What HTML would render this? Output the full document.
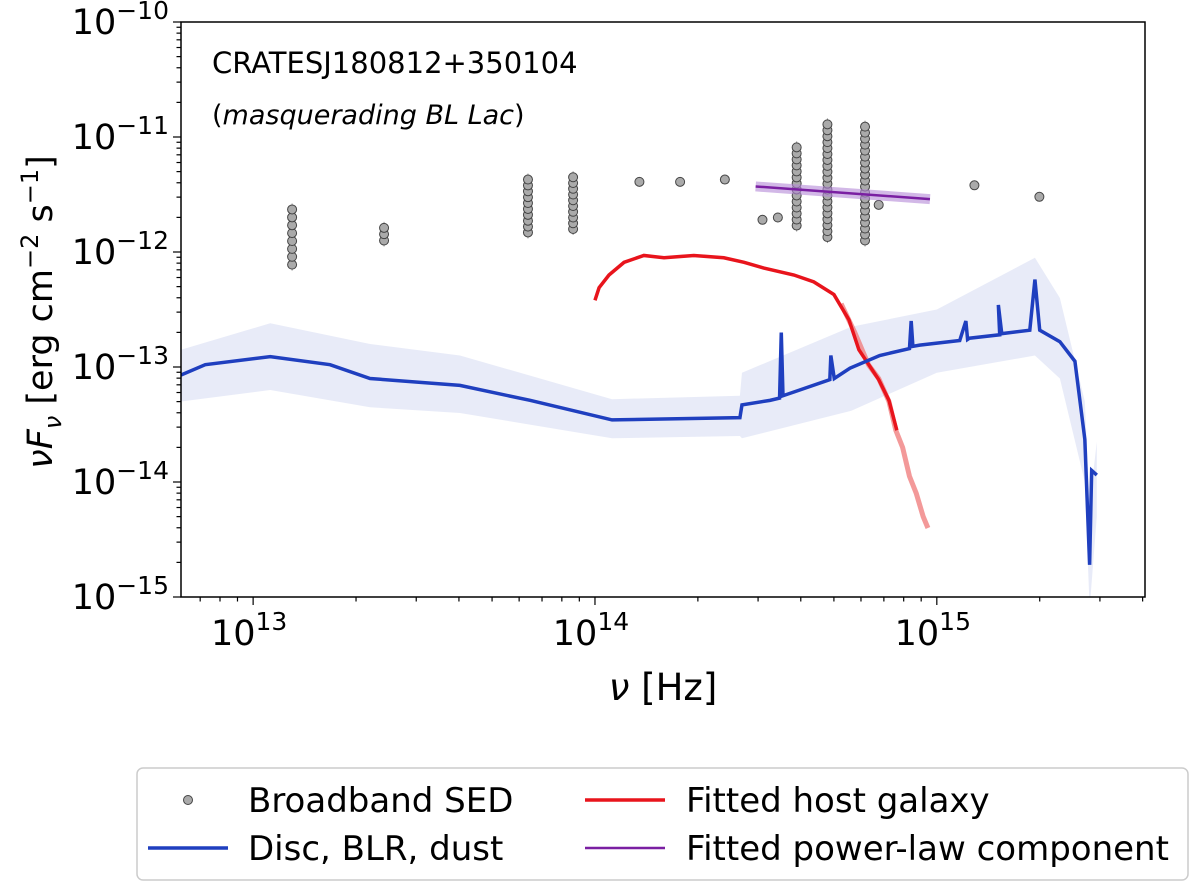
<!DOCTYPE html>
<html><head><meta charset="utf-8"><style>
body{margin:0;background:#fff;font-family:"Liberation Sans","DejaVu Sans",sans-serif}
svg text{font-family:"DejaVu Sans","Liberation Sans",sans-serif}
</style></head><body>
<svg id="c" width="1200" height="889" xmlns="http://www.w3.org/2000/svg"></svg>
<script>
// data in log10 units
const sedNu=[13.114,13.383,13.804,13.936,14.13,14.249,14.38,14.49,14.535,14.59,14.68,14.79,14.83,15.11,15.30];
const sedLo=[-12.11,-11.90,-11.83,-11.80,-11.39,-11.39,-11.37,-11.72,-11.70,-11.77,-11.87,-11.90,-11.59,-11.42,-11.52];
const sedHi=[-11.63,-11.79,-11.37,-11.35,-11.39,-11.39,-11.37,-11.72,-11.70,-11.09,-10.89,-10.91,-11.59,-11.42,-11.52];
const sedN=[8,3,10,10,1,1,1,1,1,14,20,20,1,1,1];
const plNu=[14.47,14.98];
const plF=[-11.43,-11.54];
const hostNu=[14.0,14.012,14.041,14.085,14.143,14.202,14.289,14.377,14.436,14.494,14.582,14.640,14.699,14.743,14.772,14.801,14.830,14.860,14.883];
const hostF=[-12.42,-12.31,-12.20,-12.09,-12.03,-12.05,-12.03,-12.05,-12.09,-12.14,-12.20,-12.26,-12.37,-12.59,-12.85,-12.98,-13.11,-13.29,-13.55];
const hostExtNu=[14.72,14.76,14.80,14.83,14.86,14.88,14.90,14.92,14.94,14.96,14.974];
const hostExtF=[-12.45,-12.70,-12.98,-13.10,-13.30,-13.55,-13.70,-13.95,-14.10,-14.30,-14.40];
const discNu=[12.789,12.860,13.050,13.225,13.342,13.605,13.810,14.050,14.424,14.430,14.512,14.540,14.545,14.55,14.599,14.687,14.69,14.70,14.746,14.833,14.920,14.925,14.93,14.950,15.067,15.085,15.09,15.095,15.184,15.180,15.19,15.272,15.287,15.301,15.360,15.404,15.433,15.447,15.453,15.468];
const discF=[-13.07,-12.98,-12.91,-12.98,-13.10,-13.16,-13.29,-13.46,-13.44,-13.33,-13.29,-13.27,-12.70,-13.25,-13.20,-13.11,-12.90,-13.10,-13.01,-12.90,-12.84,-12.60,-12.82,-12.81,-12.77,-12.60,-12.76,-12.75,-12.72,-12.46,-12.71,-12.68,-12.24,-12.68,-12.78,-12.95,-13.63,-14.72,-13.90,-13.94];
const bandNu=[12.789,13.05,13.342,13.605,14.05,14.424,14.43,14.75,15.0,15.287,15.36,15.433,15.447,15.468];
const bandHi=[-12.85,-12.62,-12.80,-12.90,-13.28,-13.25,-13.05,-12.65,-12.50,-12.05,-12.40,-13.30,-14.20,-13.65];
const bandLo=[-13.30,-13.20,-13.35,-13.40,-13.62,-13.60,-13.62,-13.38,-13.05,-12.90,-13.10,-14.00,-15.10,-14.30];
const xTicks=[13,14,15];
const yTicks=[-10,-11,-12,-13,-14,-15];

const L=181,R=1145,T=22,B=597;
const xMin=12.789,xMax=15.609,yMin=-15,yMax=-10;
const X=v=>L+(v-xMin)/(xMax-xMin)*(R-L);
const Y=v=>B-(v-yMin)/(yMax-yMin)*(B-T);
const svg=document.getElementById('c');
const NS='http://www.w3.org/2000/svg';
function mk(tag,attrs,name,parent){const e=document.createElementNS(NS,tag);for(const k in attrs)e.setAttribute(k,attrs[k]);


(parent||svg).appendChild(e);return e;}
const clip=mk('clipPath',{id:'pc'},'plot-clip');mk('rect',{x:L,y:T,width:R-L,height:B-T},'clip-rect',clip);
const g=mk('g',{'clip-path':'url(#pc)'},'plot-area');
let bp=bandNu.map((n,i)=>X(n)+','+Y(bandHi[i])).join(' ')+' '+bandNu.map((n,i)=>X(n)+','+Y(bandLo[i])).reverse().join(' ');
mk('polygon',{points:bp,fill:'#1f3fbf',opacity:0.1},'disc-uncertainty-band',g);
mk('polyline',{points:hostExtNu.map((n,i)=>X(n)+','+Y(hostExtF[i])).join(' '),fill:'none',stroke:'#f08080',opacity:0.8,'stroke-width':5},'host-galaxy-extension',g);
mk('polyline',{points:hostNu.map((n,i)=>X(n)+','+Y(hostF[i])).join(' '),fill:'none',stroke:'#e8141c','stroke-width':3.5},'host-galaxy-line',g);
mk('polyline',{points:discNu.map((n,i)=>X(n)+','+Y(discF[i])).join(' '),fill:'none',stroke:'#1f3fbf','stroke-width':3.5},'disc-blr-dust-line',g);
sedNu.forEach((n,i)=>{const k=sedN[i];
 if(k>1) mk('line',{x1:X(n),x2:X(n),y1:Y(sedHi[i])-6,y2:Y(sedLo[i])+6,stroke:'#999','stroke-width':1},'sed-errorbar',g);
 for(let j=0;j<k;j++){const v=k>1?sedLo[i]+(sedHi[i]-sedLo[i])*j/(k-1):sedLo[i];
 mk('circle',{cx:X(n),cy:Y(v),r:4.5,fill:'#aaa',stroke:'#444','stroke-width':1},'sed-point',g);}});
mk('line',{x1:X(plNu[0]),y1:Y(plF[0]),x2:X(plNu[1]),y2:Y(plF[1]),stroke:'#b58ad8','stroke-width':10,opacity:0.6},'power-law-band',g);
mk('line',{x1:X(plNu[0]),y1:Y(plF[0]),x2:X(plNu[1]),y2:Y(plF[1]),stroke:'#7a1fa2','stroke-width':2.5},'power-law-line',g);
mk('rect',{x:L,y:T,width:R-L,height:B-T,fill:'none',stroke:'#000','stroke-width':1.5},'plot-frame');
for(let d=12;d<=15;d++)for(let m=1;m<10;m++){const v=d+Math.log10(m);if(v<xMin||v>xMax)continue;
 mk('line',{x1:X(v),x2:X(v),y1:B,y2:B+(m==1?8:4.5),stroke:'#000','stroke-width':1.2},'x-tick');}
for(let d=-15;d<-10;d++)for(let m=1;m<10;m++){const v=d+Math.log10(m);
 mk('line',{x1:L,x2:L-(m==1?8:4.5),y1:Y(v),y2:Y(v),stroke:'#000','stroke-width':1.2},'y-tick');}
mk('line',{x1:L,x2:L-8,y1:Y(-10),y2:Y(-10),stroke:'#000','stroke-width':1.2},'y-tick');
xTicks.forEach(t=>{const e=mk('text',{x:X(t)-4,y:B+48,'text-anchor':'middle','font-size':35},'x-tick-label');e.innerHTML='10<tspan dy="-15" font-size="25">'+t+'</tspan>';});
yTicks.forEach(t=>{const e=mk('text',{x:L-12,y:Y(t)+12,'text-anchor':'end','font-size':35},'y-tick-label');e.innerHTML='10<tspan dy="-15" font-size="25">\u2212'+(-t)+'</tspan>';});
</script>
<svg width="1200" height="889" style="position:absolute;left:0;top:0" xmlns="http://www.w3.org/2000/svg">
<text x="663" y="700" text-anchor="middle" font-size="37"><tspan font-style="italic">ν</tspan> [Hz]</text>
<text transform="translate(52,312) rotate(-90)" text-anchor="middle" font-size="35"><tspan font-style="italic">νF</tspan><tspan font-style="italic" font-size="24" dy="9">ν</tspan><tspan dy="-9"> [erg cm</tspan><tspan dy="-14" font-size="24">−2</tspan><tspan dy="14"> s</tspan><tspan dy="-14" font-size="24">−1</tspan><tspan dy="14">]</tspan></text>
<text x="212" y="73" font-size="29">CRATESJ180812+350104</text>
<text x="212" y="124" font-size="27">(<tspan font-style="italic">masquerading BL Lac</tspan>)</text>
<g>
<rect x="137" y="768" width="1051" height="112" rx="6" fill="#fff" stroke="#ccc" stroke-width="1.5"/>
<circle cx="188" cy="800" r="4.5" fill="#aaa" stroke="#444"/>
<text x="248" y="812" font-size="34">Broadband SED</text>
<line x1="148" y1="848" x2="228" y2="848" stroke="#1f3fbf" stroke-width="3.5"/>
<text x="248" y="860" font-size="34">Disc, BLR, dust</text>
<line x1="585" y1="800" x2="665" y2="800" stroke="#e8141c" stroke-width="3.5"/>
<text x="686" y="812" font-size="34">Fitted host galaxy</text>
<line x1="585" y1="848" x2="665" y2="848" stroke="#7a1fa2" stroke-width="2.5"/>
<text x="686" y="860" font-size="34">Fitted power-law component</text>
</g>
</svg>
</body></html>
